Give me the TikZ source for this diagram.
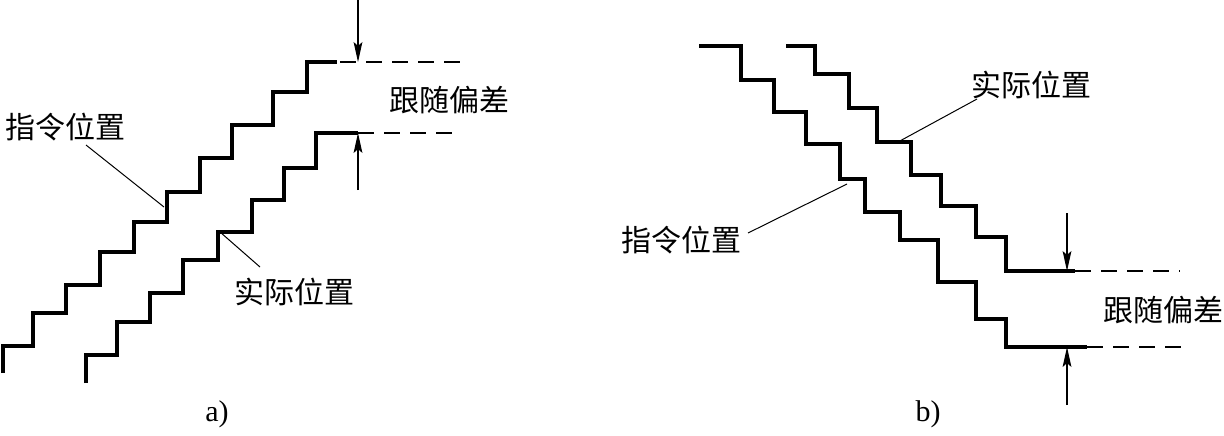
\documentclass[tikz,border=0pt]{standalone}
\usepackage{fontspec}
\setmainfont{Liberation Serif}
\newfontfamily\cjk{Noto Sans CJK SC}
\usetikzlibrary{arrows.meta}

\begin{document}
\begin{tikzpicture}[x=0.5pt, y=-0.5pt,
		stair/.style={line width=1.6pt, line join=miter},
		lead/.style={line width=0.5pt},
		dashline/.style={line width=0.7pt, dash pattern=on 8pt off 5pt},
		dimarrow/.style={line width=0.55pt, -{Stealth[length=10pt, width=4.4pt, inset=2pt]}},
		lbl/.style={font=\cjk\fontsize{15}{18}\selectfont, inner sep=0pt},
		sublbl/.style={font=\fontsize{15}{18}\selectfont, inner sep=0pt}]
			\useasboundingbox (0,0) rectangle (1224,435);
			% Panel a: staircases
			\draw[stair] (3,373) -- (3,346) -- (33,346) -- (33,313) -- (66,313) -- (66,285) -- (100,285) -- (100,252) -- (134,252) -- (134,222) -- (167,222) -- (167,192) -- (200,192) -- (200,158) -- (232,158) -- (232,125) -- (273,125) -- (273,92) -- (307,92) -- (307,62) -- (337,62);
			\draw[stair] (86,383) -- (86,355) -- (117,355) -- (117,322) -- (150,322) -- (150,293) -- (183,293) -- (183,260) -- (218,260) -- (218,232) -- (252,232) -- (252,200) -- (284,200) -- (284,168) -- (316,168) -- (316,133) -- (358,133);
			\coordinate (C1) at (340,62);
			\coordinate (C2) at (463,62);
			\coordinate (C3) at (358,133);
			\coordinate (C4) at (455,133);
			\draw[dashline] (C1) -- (C2);
			\draw[dashline] (C3) -- (C4);
			\coordinate (C5) at (358,0);
			\coordinate (C6) at (358,62);
			\coordinate (C7) at (358,190);
			\draw[dimarrow] (C5) -- (C6);
			\draw[dimarrow] (C7) -- (C3);
			% Panel a: labels and leaders
			\node[lbl] (N1) at (65,127) {指令位置};
			\node[lbl] (N2) at (449,100) {跟随偏差};
			\node[lbl] (N3) at (294,292) {实际位置};
			\node[sublbl] (N4) at (217,414) {a)};
			\coordinate (C8) at (86,145);
			\coordinate (C9) at (164,207);
			\draw[lead] (C8) -- (C9);
			\coordinate (C10) at (260,267);
			\coordinate (C11) at (220,232);
			\draw[lead] (C10) -- (C11);
			% Panel b: staircases
			\draw[stair] (699,46) -- (741,46) -- (741,80) -- (774,80) -- (774,112) -- (806,112) -- (806,144) -- (840,144) -- (840,179) -- (865,179) -- (865,212) -- (900,212) -- (900,240) -- (938,240) -- (938,282) -- (976,282) -- (976,319) -- (1006,319) -- (1006,347) -- (1087,347);
			\draw[stair] (786,46) -- (815,46) -- (815,74) -- (849,74) -- (849,108) -- (877,108) -- (877,142) -- (911,142) -- (911,175) -- (941,175) -- (941,206) -- (976,206) -- (976,237) -- (1006,237) -- (1006,271) -- (1075,271);
			\coordinate (C12) at (1075,271);
			\coordinate (C13) at (1180,271);
			\coordinate (C14) at (1087,347);
			\coordinate (C15) at (1190,347);
			\draw[dashline] (C12) -- (C13);
			\draw[dashline] (C14) -- (C15);
			\coordinate (C16) at (1067,213);
			\coordinate (C17) at (1067,271);
			\coordinate (C18) at (1067,405);
			\coordinate (C19) at (1067,347);
			\draw[dimarrow] (C16) -- (C17);
			\draw[dimarrow] (C18) -- (C19);
			% Panel b: labels and leaders
			\node[lbl] (N5) at (1031,85) {实际位置};
			\node[lbl] (N6) at (681,240) {指令位置};
			\node[lbl] (N7) at (1163,310) {跟随偏差};
			\node[sublbl] (N8) at (928,414) {b)};
			\coordinate (C20) at (977,99);
			\coordinate (C21) at (898,142);
			\draw[lead] (C20) -- (C21);
			\coordinate (C22) at (748,233);
			\coordinate (C23) at (847,184);
			\draw[lead] (C22) -- (C23);
		\end{tikzpicture}
\end{document}
